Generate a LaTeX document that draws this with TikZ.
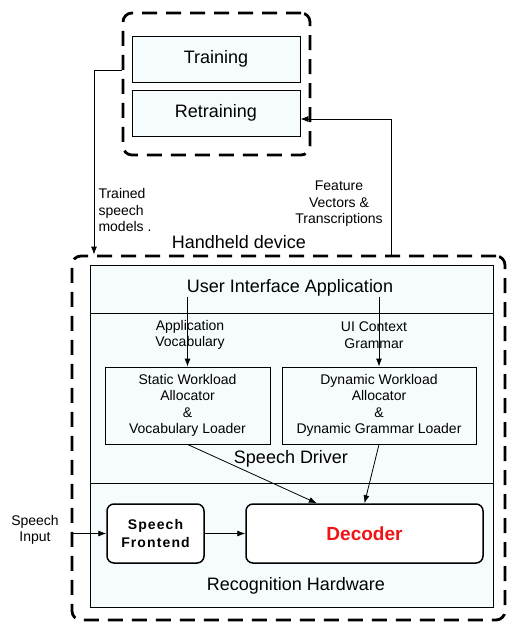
\documentclass[tikz,border=0pt]{standalone}
\usepackage{fontspec}
\setmainfont{Liberation Sans}
\usepackage{xcolor}
\definecolor{panelFill}{RGB}{246,252,254}
\definecolor{rojo}{RGB}{240,20,20}
\usepackage{tikz}
\usetikzlibrary{arrows.meta,shapes,calc,positioning}
\tikzstyle{edge}  =[line width=0.8pt, >={Latex[length=8pt,width=6pt]}]
\tikzstyle{group} =[rectangle, draw, dash pattern=on 15pt off 9pt,
                    rounded corners=9pt, line width=2.8pt, inner sep=0pt]
\tikzstyle{panel} =[rectangle, draw, fill=panelFill, line width=0.8pt,
                    inner sep=0pt]
\tikzstyle{hwbox} =[rectangle, draw, fill=white, rounded corners=7pt,
                    line width=1.5pt, inner sep=0pt]
\tikzstyle{txt}   =[inner sep=0pt, align=center,
                    font=\fontsize{14}{16.5}\selectfont]
\tikzstyle{big}   =[inner sep=0pt, font=\fontsize{18}{21}\selectfont]

\begin{document}
\begin{tikzpicture}[x=1pt,y=-1pt]
    \useasboundingbox (0,0) rectangle (509,624);

    % training side
    \draw (216.5,84) node(topbox)[group, minimum width=187, minimum height=142]{};
    \draw (216,59) node(train)[panel, big, minimum width=168, minimum height=46]{Training};
    \draw (216,113) node(retrain)[panel, big, minimum width=168, minimum height=46]{Retraining};

    % handheld device
    \draw (288.5,438) node(hand)[group, minimum width=433, minimum height=364]{};
    \draw (239,242) node(handlbl)[big]{Handheld device};

    \draw (291.5,289) node(ui)[panel, minimum width=403, minimum height=48]{};
    \draw (290,288) node(uitxt)[big]{User Interface Application};

    \draw (291.5,398) node(drv)[panel, minimum width=403, minimum height=170]{};
    \draw (190,335) node(avlbl)[txt]{Application\\Vocabulary};
    \draw (374,335) node(uclbl)[txt]{UI Context\\Grammar};
    \draw (187.5,405.5) node(static)[panel, txt, fill=none, minimum width=165,
            minimum height=77]{Static Workload\\Allocator\\\&\\Vocabulary Loader};
    \draw (379,405.5) node(dyn)[panel, txt, fill=none, minimum width=194,
            minimum height=77]{Dynamic Workload\\Allocator\\\&\\Dynamic Grammar Loader};
    \draw (291,459) node(drvtxt)[big]{Speech Driver};

    \draw (291.5,545) node(rec)[panel, minimum width=403, minimum height=124]{};
    \draw (155.5,533.5) node(front)[hwbox, txt, minimum width=97, minimum height=59,
            font=\bfseries\fontsize{14}{18}\selectfont\addfontfeature{LetterSpace=8}]{Speech\\Frontend};
    \draw (364.5,533.5) node(dec)[hwbox, minimum width=237, minimum height=59,
            text=rojo, font=\bfseries\fontsize{19}{22}\selectfont]{Decoder};
    \draw (296,586) node(rectxt)[big]{Recognition Hardware};

    % outside labels
    \draw (125,210) node(tmlbl)[txt, align=left]{Trained\\speech\\models .};
    \draw (339,204) node(fvlbl)[txt]{Feature\\Vectors \&\\Transcriptions};
    \draw (35,530) node(sinlbl)[txt]{Speech\\Input};

    \coordinate (tmturn) at (94,70);
    \coordinate (fvturn) at (391,119);
    \draw [edge,->] (topbox.west |- tmturn) -- (tmturn) -- (tmturn |- hand.north);
    \draw [edge,->] (fvturn |- hand.north) -- (fvturn) -- (retrain.east |- fvturn);

    \foreach \j in {static,dyn}
        \draw [edge,->] (uitxt.south -| \j.north) -- (\j.north);
    \draw [edge,->] (static.south) -- ($(dec.north west)!0.3!(dec.north east)$);
    \draw [edge,->] (dyn.south) -- (dec.north);
    \draw [edge,->] (hand.west |- front) -- (front.west);
    \foreach \i/\j in {front/dec}
        \draw [edge,->] (\i) -- (\j);
\end{tikzpicture}
\end{document}
